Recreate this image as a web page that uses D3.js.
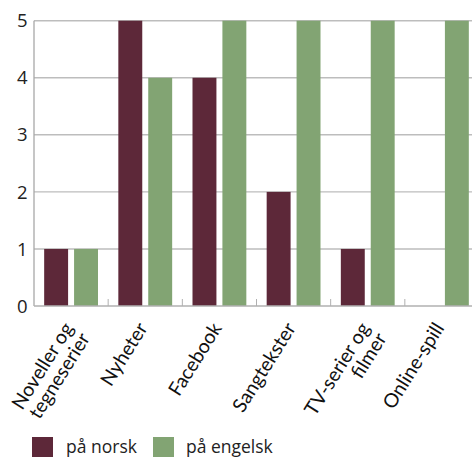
<!DOCTYPE html>
<html>
<head>
<meta charset="utf-8">
<script src="https://cdn.jsdelivr.net/npm/d3@7/dist/d3.min.js"></script>
<style>
  html, body { margin: 0; padding: 0; background: #fff; }
  svg { display: block; font-family: "Open Sans", "Noto Sans", sans-serif; }
</style>
</head>
<body>
<svg id="chart" width="472" height="457"></svg>
<script>
// Categories (multi-line labels split into lines)
const categories = ["Noveller og tegneserier", "Nyheter", "Facebook", "Sangtekster", "TV-serier og filmer", "Online-spill"];
const categoryLines = [["Noveller og", "tegneserier"], ["Nyheter"], ["Facebook"], ["Sangtekster"], ["TV-serier og", "filmer"], ["Online-spill"]];
const seriesNames = ["på norsk", "på engelsk"];
const norsk = [1, 5, 4, 2, 1, 0];
const engelsk = [1, 4, 5, 5, 5, 5];
const yTicks = [0, 1, 2, 3, 4, 5];
const colors = ["#5d2839", "#82a473"];

const svg = d3.select("#chart");
const plot = { left: 34, right: 479, top: 20.7, bottom: 306 };

const x = d3.scaleBand().domain(categories).range([plot.left, plot.right]).padding(0);
const xs = d3.scaleBand().domain(seriesNames).range([0, x.bandwidth()])
  .paddingInner(0.2).paddingOuter(0.34);
const y = d3.scaleLinear().domain([0, 5]).range([plot.bottom, plot.top]);

// Horizontal gridlines
svg.append("g").selectAll("line").data(yTicks.filter(d => d > 0)).join("line")
  .attr("x1", plot.left).attr("x2", 472)
  .attr("y1", d => y(d)).attr("y2", d => y(d))
  .attr("stroke", "#bdbdbd").attr("stroke-width", 1.4);

// Category boundary tick marks (pointing up from the baseline)
svg.append("g").selectAll("line").data(categories.slice(1)).join("line")
  .attr("x1", d => x(d)).attr("x2", d => x(d))
  .attr("y1", plot.bottom).attr("y2", plot.bottom - 7)
  .attr("stroke", "#b0b0b0").attr("stroke-width", 1);

// Bars
const rows = categories.map((c, i) => ({ c, vals: [norsk[i], engelsk[i]] }));
const groups = svg.append("g").selectAll("g").data(rows).join("g")
  .attr("transform", d => `translate(${x(d.c)},0)`);
groups.selectAll("rect").data(d => d.vals.map((v, k) => ({ v, s: seriesNames[k], k }))).join("rect")
  .attr("x", d => xs(d.s))
  .attr("width", xs.bandwidth())
  .attr("y", d => y(d.v))
  .attr("height", d => y(0) - y(d.v))
  .attr("fill", d => colors[d.k])
  .attr("stroke", d => d.v === 0 ? colors[d.k] : "none")
  .attr("stroke-width", 0.6)
  .attr("stroke-opacity", 0.5);

// Axis lines
svg.append("line").attr("x1", plot.left).attr("x2", plot.left)
  .attr("y1", plot.top).attr("y2", plot.bottom)
  .attr("stroke", "#a8a8a8").attr("stroke-width", 1.3);
svg.append("line").attr("x1", plot.left).attr("x2", 472)
  .attr("y1", plot.bottom).attr("y2", plot.bottom)
  .attr("stroke", "#b0b0b0").attr("stroke-width", 1.3);

// Y tick labels
svg.append("g").selectAll("text").data(yTicks).join("text")
  .attr("x", 27.5).attr("y", d => y(d)).attr("dy", "0.36em")
  .attr("text-anchor", "end").attr("font-size", 18.5).attr("fill", "#222")
  .text(d => d);

// Rotated category labels, lines end-aligned at the anchor
const angle = 58;
const lh = 19.5;
const lbl = svg.append("g").selectAll("g").data(categories).join("g")
  .attr("transform", d => `translate(${x(d) + x.bandwidth() / 2 + 3},328) rotate(${-angle})`);
lbl.each(function (d, i) {
  const g = d3.select(this);
  categoryLines[i].forEach((t, j) => {
    g.append("text")
      .attr("font-family", "Lato, 'Open Sans', sans-serif")
      .attr("font-size", 19.5).attr("fill", "#111")
      .attr("text-anchor", "end")
      .attr("x", 0).attr("y", j * lh)
      .text(t);
  });
});

// Legend
const legend = svg.append("g").attr("transform", "translate(32,437)");
const items = [{ name: seriesNames[0], x: 0, tx: 34 }, { name: seriesNames[1], x: 121, tx: 154 }];
items.forEach((it, k) => {
  legend.append("rect").attr("x", it.x).attr("y", 0).attr("width", 21).attr("height", 21)
    .attr("fill", colors[k]);
  legend.append("text").attr("x", it.tx).attr("y", 15.5)
    .attr("font-size", 17.5).attr("fill", "#222").text(it.name);
});
</script>
</body>
</html>
